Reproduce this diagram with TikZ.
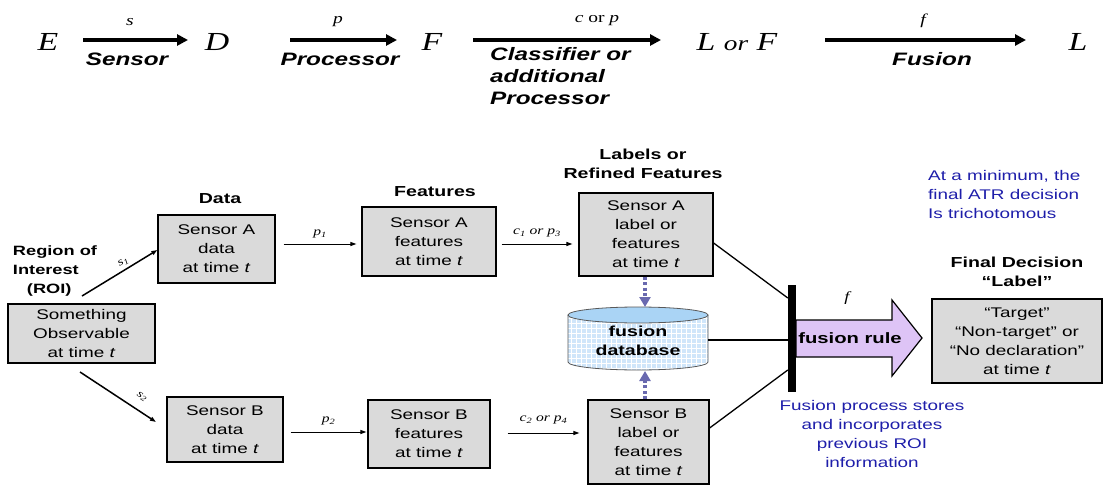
\documentclass[tikz,border=0pt]{standalone}
\usepackage{fontspec}
\setmainfont[FakeStretch=1.35]{Liberation Sans}
\newfontfamily\tms[FakeStretch=1.3]{Liberation Serif}
\usetikzlibrary{arrows.meta,calc}
\definecolor{boxgray}{RGB}{218,218,218}
\definecolor{lav}{RGB}{222,196,246}
\definecolor{cylbody}{RGB}{208,230,250}
\definecolor{cyltop}{RGB}{170,212,245}
\definecolor{dotc}{RGB}{105,105,175}
\definecolor{bluetxt}{RGB}{30,30,170}
\tikzset{
  box/.style={draw, line width=1.2pt, fill=boxgray, align=center, inner sep=0pt,
    font=\fontsize{14}{19}\selectfont},
  hdr/.style={align=center, font=\fontsize{14.5}{19}\selectfont\bfseries, inner sep=0pt},
  bigarr/.style={line width=3.6pt, -{Triangle[length=11pt,width=11pt]}},
  thinarr/.style={line width=1pt, -{Triangle[length=6pt,width=4pt]}},
  dotarr/.style={dotc, line width=3.5pt, dash pattern=on 3pt off 2.5pt, -{Triangle[length=10pt,width=11pt]}},
  toprow/.style={font=\fontsize{18}{22}\selectfont\bfseries\itshape, align=left, inner sep=0pt},
  sym/.style={font=\fontsize{26}{26}\selectfont\tms\itshape, inner sep=0pt},
  lbl/.style={font=\fontsize{12}{14}\selectfont\tms\itshape, inner sep=0pt},
  bluet/.style={text=bluetxt, font=\fontsize{14}{19}\selectfont, inner sep=0pt},
}
\begin{document}
\begin{tikzpicture}[x=1pt,y=-1pt]
\useasboundingbox (0,0) rectangle (1103,487);
% ---------- top row ----------
\node[sym] (E) at (48,42) {E};
\node[sym] (D) at (217,42) {D};
\node[sym] (F) at (432,42) {F};
\node[sym] (LF) at (737,42) {L {\fontsize{21}{21}\selectfont or} F};
\node[sym] (L) at (1078,42) {L};
\coordinate (a1s) at (83,40); \coordinate (a1e) at (188,40);
\coordinate (a2s) at (290,40); \coordinate (a2e) at (397,40);
\coordinate (a3s) at (473,40); \coordinate (a3e) at (661,40);
\coordinate (a4s) at (825,40); \coordinate (a4e) at (1026,40);
\draw[bigarr] (a1s) -- (a1e);
\draw[bigarr] (a2s) -- (a2e);
\draw[bigarr] (a3s) -- (a3e);
\draw[bigarr] (a4s) -- (a4e);
\node[lbl, font=\fontsize{15}{15}\selectfont\tms\itshape] (ls) at (130,22) {s};
\node[lbl, font=\fontsize{15}{15}\selectfont\tms\itshape] (lp) at (338,22) {p};
\node[lbl, font=\fontsize{15}{15}\selectfont\tms] (lcp) at (597,21) {\itshape c \upshape or \itshape p};
\node[lbl, font=\fontsize{15}{15}\selectfont\tms\itshape] (lf) at (923,21) {f};
\node[toprow] (tsensor) at (127,59) {Sensor};
\node[toprow] (tproc) at (340,59) {Processor};
\node[toprow, anchor=north west] (tclass) at (490,47) {Classifier or\\additional\\Processor};
\node[toprow] (tfus) at (932,59) {Fusion};
% ---------- headers ----------
\node[hdr] (hdata) at (220,199) {Data};
\node[hdr] (hfeat) at (435,192) {Features};
\node[hdr] (hlab) at (643,164) {Labels or\\Refined Features};
\node[hdr, align=left, font=\fontsize{13.5}{19}\selectfont\bfseries] (hroi) at (55,271) {Region of\\Interest\\\hspace*{14pt}(ROI)};
\node[hdr] (hfin) at (1017,272) {Final Decision\\“Label”};
% ---------- boxes ----------
\node[box, minimum width=147pt, minimum height=59pt] (obs) at (81.5,333.5) {Something\\Observable\\at time \textit{t}};
\node[box, minimum width=117pt, minimum height=68pt] (sAd) at (216.5,249) {Sensor A\\data\\at time \textit{t}};
\node[box, minimum width=116pt, minimum height=65pt] (sBd) at (225,429.5) {Sensor B\\data\\at time \textit{t}};
\node[box, minimum width=134pt, minimum height=69pt] (sAf) at (429,241.5) {Sensor A\\features\\at time \textit{t}};
\node[box, minimum width=122pt, minimum height=68pt] (sBf) at (429,434) {Sensor B\\features\\at time \textit{t}};
\node[box, minimum width=134pt, minimum height=83pt] (sAl) at (646,234.5) {Sensor A\\label or\\features\\at time \textit{t}};
\node[box, minimum width=121pt, minimum height=84pt] (sBl) at (648.5,442) {Sensor B\\label or\\features\\at time \textit{t}};
\node[box, minimum width=170pt, minimum height=84pt] (fin) at (1017,341) {“Target”\\“Non-target” or\\“No declaration”\\at time \textit{t}};
% ---------- cylinder ----------
\begin{scope}
  \path[clip] (568,315) -- (568,362) arc[start angle=180, end angle=0, x radius=70, y radius=8] -- (708,315) -- cycle;
  \fill[cylbody] (560,300) rectangle (716,375);
  \foreach \x in {571,576,...,706} \draw[white, line width=0.4pt] (\x,300) -- (\x,375);
  \foreach \y in {318,323,...,372} \draw[white, line width=0.4pt] (560,\y) -- (716,\y);
\end{scope}
\draw[gray!70!black, line width=0.8pt] (568,315) -- (568,362) arc[start angle=180, end angle=0, x radius=70, y radius=8] -- (708,315);
\draw[gray!70!black, line width=0.8pt, fill=cyltop] (638,315) ellipse[x radius=70, y radius=8];
\node[font=\fontsize{14.5}{19}\selectfont\bfseries, align=center, inner sep=0pt] (cyl) at (638,341) {fusion\\database};
\coordinate (cylE) at (708,340);
\coordinate (cylT) at (645,307);
\coordinate (cylB) at (645,371);
% ---------- fusion bar and arrow ----------
\node[fill=black, minimum width=8pt, minimum height=107pt, inner sep=0pt] (bar) at (792,338.5) {};
\path[draw=black, line width=1.2pt, fill=lav, line join=miter]
  (796,320) -- (892,320) -- (892,300) -- (922,338) -- (892,376) -- (892,357) -- (796,357) -- cycle;
\node[font=\fontsize{15}{19}\selectfont\bfseries, inner sep=0pt] (frule) at (850,338) {fusion rule};
\node[lbl, font=\fontsize{14}{14}\selectfont\tms\itshape] (lff) at (847,298) {f};
% ---------- connectors ----------
\coordinate (s1s) at (82,296);
\coordinate (s2s) at (80,372);
\coordinate (s2e) at (156,422);
\draw[thinarr, line width=1.5pt] (s1s) -- (sAd.west |- 0,250) node[pos=0.6, sloped, above=3pt, lbl, font=\fontsize{11}{11}\selectfont\tms\itshape] {s\textsubscript{1}};
\draw[thinarr, line width=1.5pt] (s2s) -- (s2e) node[pos=0.72, sloped, above=9pt, lbl, font=\fontsize{11}{11}\selectfont\tms\itshape] {s\textsubscript{2}};
\draw[thinarr] ([xshift=8pt]sAd.east |- 0,244) -- ([xshift=-5pt]sAf.west |- 0,244) node[midway, above=5pt, lbl] {p\textsubscript{1}};
\draw[thinarr] ([xshift=7pt]sBd.east |- 0,432) -- ([xshift=-1pt]sBf.west |- 0,432) node[midway, above=6pt, lbl] {p\textsubscript{2}};
\draw[thinarr] ([xshift=5pt]sAf.east |- 0,244) -- ([xshift=-6pt]sAl.west |- 0,244) node[midway, above=6pt, lbl] {c\textsubscript{1} or p\textsubscript{3}};
\draw[thinarr] ([xshift=17pt]sBf.east |- 0,433) -- ([xshift=-8pt]sBl.west |- 0,433) node[midway, above=8pt, lbl] {c\textsubscript{2} or p\textsubscript{4}};
\draw[dotarr] (sAl.south -| cylT) -- (cylT);
\draw[dotarr] (sBl.north -| cylB) -- (cylB);
\draw[line width=1.3pt] (sAl.east |- 0,243) -- (bar.west |- 0,298);
\draw[line width=1.3pt] (sBl.east |- 0,428) -- (bar.west |- 0,370);
\draw[line width=1.5pt] (cylE) -- (bar.west |- cylE);
% ---------- blue notes ----------
\node[bluet, align=left, anchor=north west] (note1) at (928,170) {At a minimum, the\\final ATR decision\\Is trichotomous};
\node[bluet, align=center, anchor=north] (note2) at (872,400) {Fusion process stores\\and incorporates\\previous ROI\\information};
\end{tikzpicture}
\end{document}
